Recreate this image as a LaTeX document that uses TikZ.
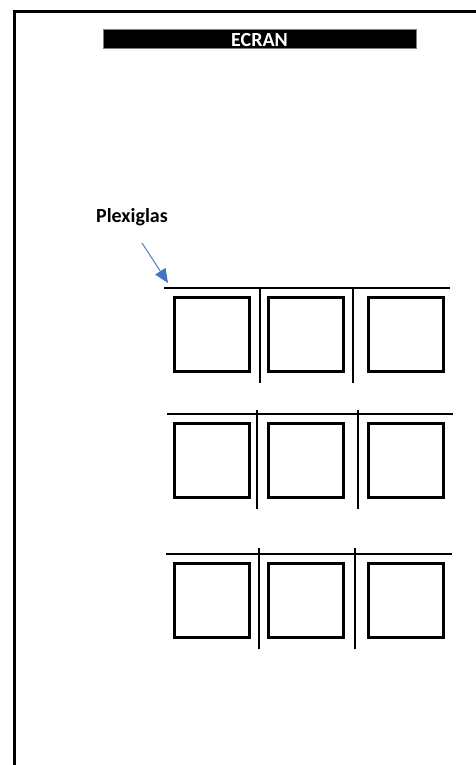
\documentclass[tikz,border=0pt]{standalone}
\usepackage{fontspec}
\setmainfont{Carlito}
\usetikzlibrary{arrows.meta}
\definecolor{arrowblue}{HTML}{4472C4}

\begin{document}
\begin{tikzpicture}[x=1pt,y=-1pt,
  window/.style={draw,line width=2.6pt,minimum width=75pt,minimum height=74pt,inner sep=0pt},
  plexi/.style={line width=1.2pt},
  bigbold/.style={font=\bfseries\fontsize{20}{20}\selectfont}]
\useasboundingbox (0,0) rectangle (476,765);
% Room outline
\draw[line width=3pt] (476,11.5) -- (14.5,11.5) -- (14.5,765);

% Screen
\node[fill=black,draw=gray,line width=0.5pt,minimum width=313pt,minimum height=19pt,
  inner sep=0pt,text height=17pt,text depth=0pt,text=white,bigbold] (ecran) at (259.5,38.5) {ECRAN};

% Label and arrow
\node[bigbold] (plexiglas) at (132,217) {Plexiglas};
\coordinate (arrowtail) at (142,243);
\coordinate (arrowtip) at (168,283);
\draw[arrowblue,line width=0.9pt,-{Triangle[length=14pt,width=12pt]}] (arrowtail) -- (arrowtip);

% Rows (plexiglas sheets and windows)
\foreach \r/\ly/\lx/\va/\vb/\vt in {1/288/164/260/353/288, 2/414/167/257/358/410, 3/554/166/259/355/548} {
  \draw[plexi] (\lx,\ly) -- (\lx+286,\ly);
  \draw[plexi] (\va,\vt) -- (\va,\ly+95);
  \draw[plexi] (\vb,\vt) -- (\vb,\ly+95);
  \node[window] (w\r a) at (212,\ly+46.5) {};
  \node[window] (w\r b) at (306,\ly+46.5) {};
  \node[window] (w\r c) at (406,\ly+46.5) {};
}
\end{tikzpicture}
\end{document}
